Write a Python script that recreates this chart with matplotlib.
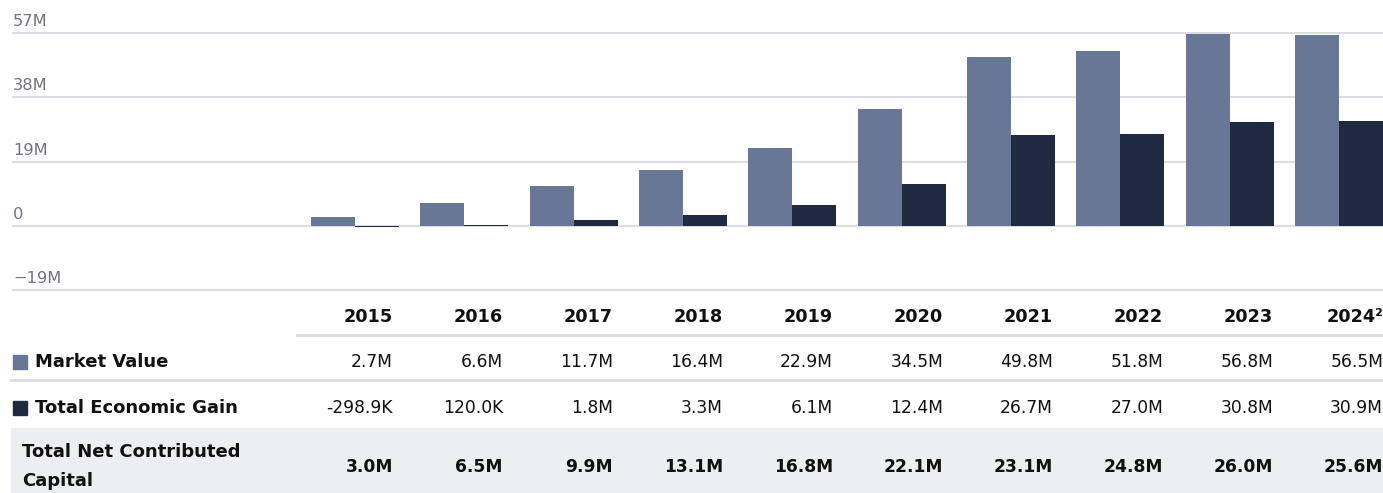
import numpy as np
import matplotlib.pyplot as plt
from matplotlib.patches import Rectangle

years = ['2015', '2016', '2017', '2018', '2019', '2020', '2021', '2022', '2023', '2024²']
market_value = [2.7, 6.6, 11.7, 16.4, 22.9, 34.5, 49.8, 51.8, 56.8, 56.5]
economic_gain = [-0.2989, 0.120, 1.8, 3.3, 6.1, 12.4, 26.7, 27.0, 30.8, 30.9]
net_capital = [3.0, 6.5, 9.9, 13.1, 16.8, 22.1, 23.1, 24.8, 26.0, 25.6]
mv_labels = ['2.7M', '6.6M', '11.7M', '16.4M', '22.9M', '34.5M', '49.8M', '51.8M', '56.8M', '56.5M']
eg_labels = ['-298.9K', '120.0K', '1.8M', '3.3M', '6.1M', '12.4M', '26.7M', '27.0M', '30.8M', '30.9M']
nc_labels = ['3.0M', '6.5M', '9.9M', '13.1M', '16.8M', '22.1M', '23.1M', '24.8M', '26.0M', '25.6M']
y_ticks = [-19, 0, 19, 38, 57]
y_tick_labels = ['\u221219M', '0', '19M', '38M', '57M']

MV_COLOR = '#687796'
EG_COLOR = '#1f2940'
GRID = '#dcdce3'
TXT = '#111111'

W, H = 1383, 493
fig = plt.figure(figsize=(W / 100, H / 100), dpi=100)


def fx(x):
    return x / W


def fy(y):
    return 1 - y / H


# grafica de barras
ax = fig.add_axes([fx(13), fy(290), fx(1383 - 13), (290 - 33) / H])
x = np.arange(len(years))
bw = 0.4025
ax.bar(x - bw, market_value, bw, align='edge', color=MV_COLOR, zorder=3)
ax.bar(x, economic_gain, bw, align='edge', color=EG_COLOR, zorder=3)
ax.set_xlim(-3.128, 9.403)
ax.set_ylim(-19, 57)
for t in y_ticks:
    ax.axhline(t, color=GRID, lw=1.5, zorder=1, clip_on=False)
for t, lab in zip(y_ticks, y_tick_labels):
    ax.annotate(lab, (0, t), xycoords=('axes fraction', 'data'),
                xytext=(0, 5), textcoords='offset points',
                ha='left', va='baseline', fontsize=11.7, color='#707284')
ax.set_axis_off()

# tabla
col_x = [fx(v) for v in np.linspace(393, 1383, len(years))]

fig.add_artist(Rectangle((fx(11), fy(493)), fx(1383 - 11), (493 - 428) / H,
                         transform=fig.transFigure, color='#eceef2', zorder=0))
fig.add_artist(plt.Line2D([fx(297), 1], [fy(335), fy(335)],
                          transform=fig.transFigure, color=GRID, lw=2))
fig.add_artist(plt.Line2D([fx(11), 1], [fy(380), fy(380)],
                          transform=fig.transFigure, color=GRID, lw=2))

for i, yr in enumerate(years):
    fig.text(col_x[i], fy(317), yr, ha='right', va='center',
             fontsize=12.7, fontweight='bold', color=TXT)
    fig.text(col_x[i], fy(362), mv_labels[i], ha='right', va='center',
             fontsize=12.3, color=TXT)
    fig.text(col_x[i], fy(408), eg_labels[i], ha='right', va='center',
             fontsize=12.3, color=TXT)
    fig.text(col_x[i], fy(467), nc_labels[i], ha='right', va='center',
             fontsize=12.3, fontweight='bold', color=TXT)

fig.add_artist(Rectangle((fx(13), fy(369)), fx(14), 14 / H,
                         transform=fig.transFigure, color=MV_COLOR))
fig.add_artist(Rectangle((fx(13), fy(415)), fx(14), 14 / H,
                         transform=fig.transFigure, color=EG_COLOR))
fig.text(fx(35), fy(362), 'Market Value', ha='left', va='center', fontsize=13,
         fontweight='bold', color=TXT)
fig.text(fx(35), fy(408), 'Total Economic Gain', ha='left', va='center',
         fontsize=13, fontweight='bold', color=TXT)
fig.text(fx(22), fy(452), 'Total Net Contributed', ha='left', va='center',
         fontsize=13, fontweight='bold', color=TXT)
fig.text(fx(22), fy(481), 'Capital', ha='left', va='center',
         fontsize=13, fontweight='bold', color=TXT)

fig.savefig('out.png', dpi=100)
